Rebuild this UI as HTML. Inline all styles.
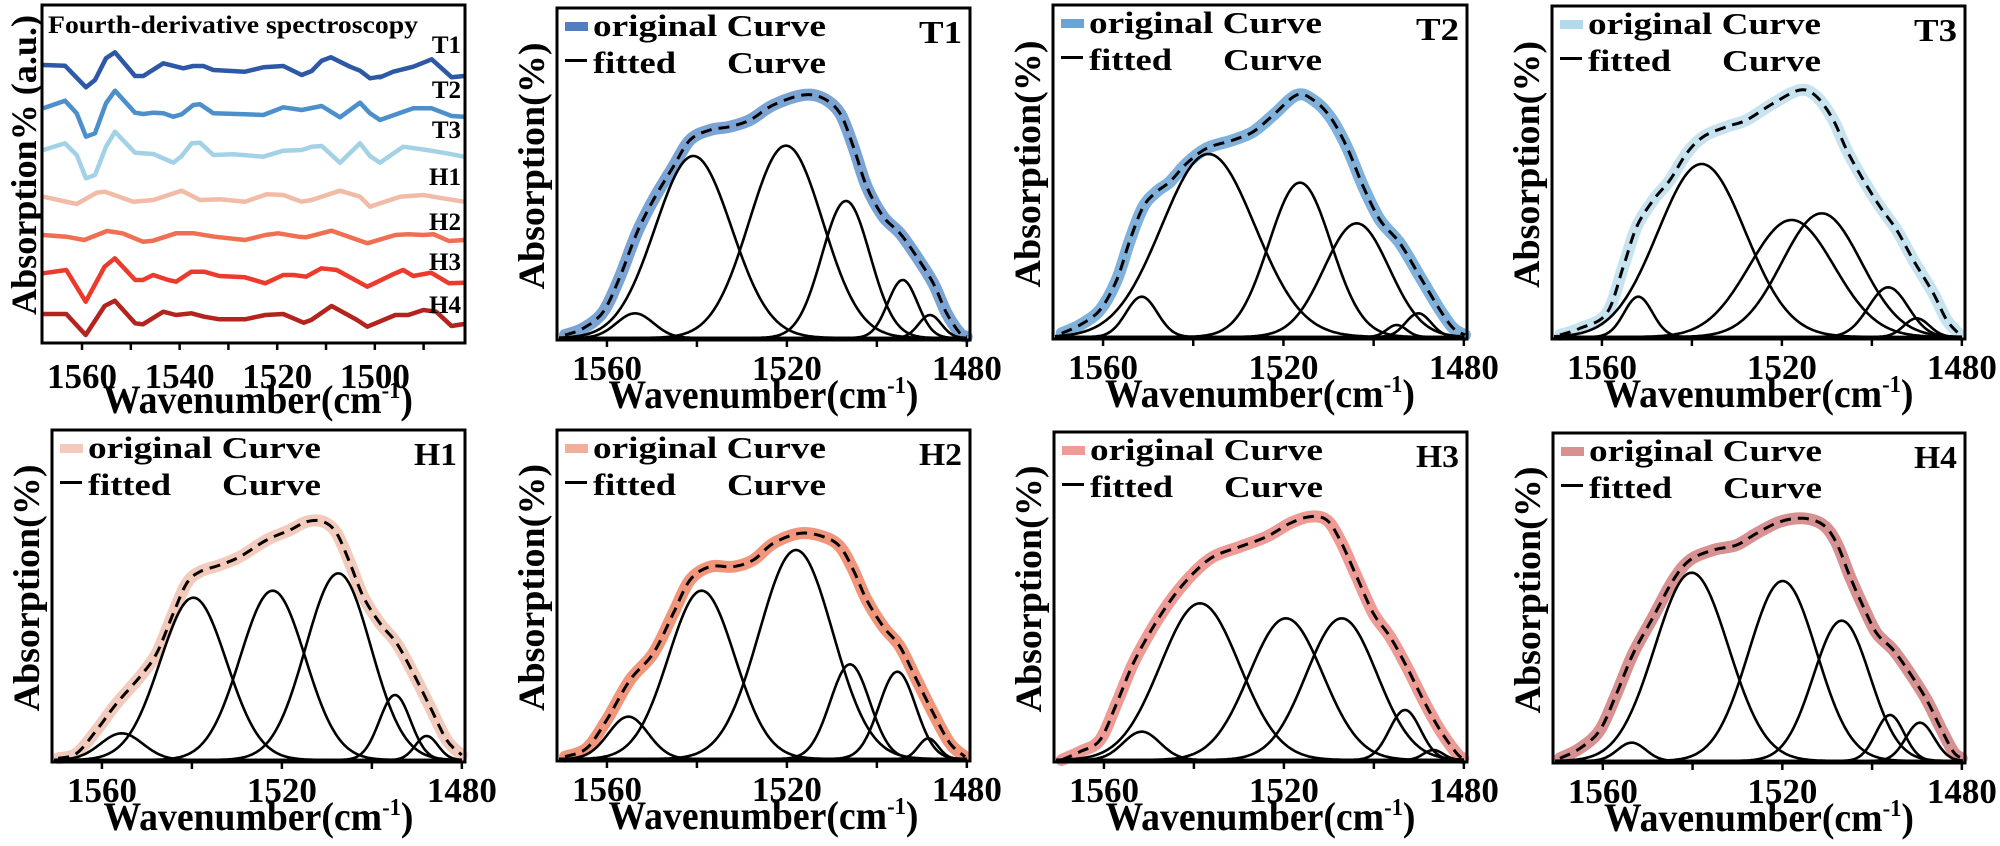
<!DOCTYPE html>
<html><head><meta charset="utf-8"><style>html,body{margin:0;padding:0;background:#fff}svg{display:block;font-family:"Liberation Serif","Times New Roman",serif;font-weight:bold}text{font-family:"Liberation Serif","Times New Roman",serif;font-weight:bold}</style></head>
<body><svg id="s" width="2000" height="846" xmlns="http://www.w3.org/2000/svg"></svg>
<script>
const S=document.getElementById('s');let H='';
function smooth(pts){let d='M'+pts[0][0].toFixed(1)+','+pts[0][1].toFixed(1);
for(let i=0;i<pts.length-1;i++){const p0=pts[i-1]||pts[i],p1=pts[i],p2=pts[i+1],p3=pts[i+2]||p2;
const c1=[p1[0]+(p2[0]-p0[0])/6,p1[1]+(p2[1]-p0[1])/6],c2=[p2[0]-(p3[0]-p1[0])/6,p2[1]-(p3[1]-p1[1])/6];
d+=`C${c1[0].toFixed(1)},${c1[1].toFixed(1)} ${c2[0].toFixed(1)},${c2[1].toFixed(1)} ${p2[0].toFixed(1)},${p2[1].toFixed(1)}`;}return d;}
function poly(pts){return 'M'+pts.map(p=>p[0].toFixed(1)+','+p[1].toFixed(1)).join('L');}
function xlabel(cx,y){H+=`<text x="${cx}" y="${y}" font-size="40" text-anchor="middle" textLength="310" lengthAdjust="spacingAndGlyphs">Wavenumber(cm<tspan font-size="24" dy="-15">-1</tspan><tspan dy="15">)</tspan></text>`;}
// ---- panel 0
(function(){const l=42,t=5,r=465,b=343;const X=w=>l+(1568.2-w)*4.88;
const cols={T1:'#2d58a6',T2:'#4b8fcb',T3:'#a3d2e6',H1:'#f2bba8',H2:'#ef6f52',H3:'#ec3b2d',H4:'#b3241e'};
const z1=(a,b2)=>a.map(p=>[p[0]/3,p[1]/3]).concat(b2.map(p=>[380+p[0]/3,p[1]/3]));
const z3=a=>a.map(p=>[p[0]/1.96,220+p[1]/3]);
const D={
T1:z1([[130,195],[195,197],[258,262],[285,240],[318,175],[345,157],[405,228],[430,228],[490,190],[550,205],[580,198],[610,198],[640,210],[735,215],[790,202],[850,198],[905,225],[935,213],[965,182],[993,172],[1050,200],[1080,212],[1110,235],[1140,230]],[[0,232],[40,215],[100,200],[155,178],[215,232],[255,228]]),
T2:z1([[130,325],[195,302],[230,340],[258,410],[285,400],[318,310],[345,272],[405,338],[430,342],[460,338],[490,340],[520,350],[545,343],[580,315],[600,313],[640,340],[735,343],[790,345],[850,322],[905,330],[965,318],[1020,352],[1080,308],[1110,340],[1140,360]],[[0,360],[100,325],[155,325],[215,348],[255,350]]),
T3:z1([[130,450],[195,430],[230,465],[258,535],[285,525],[318,440],[345,395],[405,458],[460,462],[520,488],[545,468],[575,430],[600,428],[640,465],[700,463],[790,470],[850,452],[905,450],[935,440],[965,438],[1020,488],[1080,430],[1110,468],[1140,488]],[[0,488],[70,440],[140,450],[200,460],[255,470]]),
H1:z1([[130,590],[230,612],[290,578],[315,575],[400,605],[460,600],[545,572],[600,600],[660,598],[735,605],[800,583],[850,585],[905,605],[935,600],[1020,572],[1080,590],[1110,620],[1140,610]],[[0,610],[60,590],[130,585],[170,592],[255,605]]),
H2:z3([[82,45],[130,50],[165,60],[210,33],[240,40],[280,65],[300,62],[345,40],[380,40],[420,50],[480,60],[520,45],[545,40],[585,50],[600,52],[650,32],[720,70],[775,45],[800,43],[830,45],[850,43],[880,63],[910,60]]),
H3:z3([[82,160],[130,150],[168,245],[205,140],[225,115],[265,180],[280,180],[300,165],[330,180],[345,185],[375,155],[400,155],[430,168],[480,172],[520,190],[555,165],[575,165],[600,170],[630,145],[660,150],[720,200],[770,163],[790,150],[810,168],[845,158],[880,190],[910,188]]),
H4:z3([[82,282],[130,282],[168,345],[205,258],[225,242],[265,310],[280,313],[320,275],[345,285],[375,280],[400,290],[430,298],[480,298],[520,285],[555,282],[595,308],[610,300],[650,258],[700,300],[720,320],[775,285],[800,285],[830,270],[855,275],[885,318],[910,312]])};
for(const k in D){const pts=D[k].map(p=>[Math.min(Math.max(p[0],l+1),r-1),p[1]]);H+=`<path d="${poly(pts)}" fill="none" stroke="${cols[k]}" stroke-width="4.5" stroke-linejoin="round"/>`;}
const lab=[['T1',53],['T2',98],['T3',138],['H1',185],['H2',230],['H3',270],['H4',313]];
for(const [s,y] of lab)H+=`<text x="461" y="${y}" font-size="25" text-anchor="end">${s}</text>`;
H+=`<text x="48" y="33" font-size="25" textLength="370" lengthAdjust="spacingAndGlyphs">Fourth-derivative spectroscopy</text>`;
H+=`<rect x="${l}" y="${t}" width="${r-l}" height="${b-t}" fill="none" stroke="#000" stroke-width="3"/>`;
for(let w=1560;w>=1490;w-=10){const x=X(w);H+=`<line x1="${x}" y1="${b}" x2="${x}" y2="${b+7}" stroke="#000" stroke-width="2.5"/>`;if(w%20==0)H+=`<text x="${x}" y="388" font-size="35" text-anchor="middle">${w}</text>`;}
xlabel(258,413);
H+=`<text transform="translate(36,165) rotate(-90)" font-size="36" text-anchor="middle" textLength="300" lengthAdjust="spacingAndGlyphs">Absorption% (a.u.)</text>`;
})();
// ---- fitted panels
const P=[
{n:'T1',l:557,t:8,r:970,b:340,o:[540,0],c:'#7ba4d4',sw:'#4f7fc0',comp:[[285,940,130],[460,468,270],[738,437,260],[918,603,170],[1088,840,105],[1170,945,80]],
s:[[75,1005],[130,985],[190,935],[240,830],[290,700],[340,600],[400,500],[450,420],[510,390],[570,380],[630,360],[700,315],[790,285],[850,295],[900,340],[940,440],[980,560],[1030,650],[1080,700],[1130,770],[1180,850],[1220,940],[1260,1000],[1280,1010]]},
{n:'T2',l:1053,t:5,r:1467,b:339,o:[1000,0],c:'#80b1db',sw:'#6aa3d6',comp:[[425,890,110],[625,462,330],[900,548,220],[1070,670,230],[1190,975,70],[1255,940,90]],
s:[[185,1000],[240,975],[300,930],[350,840],[390,720],[430,620],[470,575],[510,545],[560,490],[620,445],[700,420],[760,395],[820,345],[890,285],[940,300],[990,350],[1040,440],[1090,560],[1140,660],[1200,730],[1260,830],[1320,930],[1360,985],[1395,1005]]},
{n:'T3',l:1552,t:6,r:1965,b:339,o:[1540,0],c:'#c7e3ef',sw:'#b3d9ea',comp:[[295,890,100],[485,492,310],[755,660,300],[845,640,280],[1045,862,140],[1130,955,90]],
s:[[60,1005],[120,985],[200,940],[250,800],[290,680],[340,600],[390,540],[440,460],[490,410],[560,380],[620,360],[700,310],[780,270],[830,290],[880,360],[920,450],[970,540],[1020,620],[1070,690],[1120,780],[1180,880],[1220,960],[1260,1005]]},
{n:'H1',l:52,t:430,r:465,b:762,o:[0,420],c:'#f3cbbc',sw:'#f3cbbc',comp:[[365,940,150],[580,533,235],[818,512,230],[1015,460,230],[1185,825,110],[1280,948,80]],
s:[[175,1015],[230,1000],[290,930],[350,850],[420,770],[470,700],[520,580],[560,490],[600,455],[660,435],[720,410],[800,360],[870,330],[920,305],[970,305],[1010,340],[1050,430],[1090,530],[1140,610],[1190,670],[1240,760],[1290,860],[1340,960],[1385,1005]]},
{n:'H2',l:557,t:430,r:970,b:761,o:[540,420],c:'#f1957b',sw:'#f1ae9a',comp:[[265,890,140],[485,512,235],[768,390,260],[930,733,140],[1072,755,130],[1165,955,70]],
s:[[75,1010],[140,985],[200,900],[270,780],[340,700],[400,580],[450,480],[510,440],[580,440],[640,420],[700,370],[780,340],[850,350],[900,380],[940,450],[980,540],[1030,620],[1080,680],[1130,780],[1180,880],[1230,970],[1275,1010]]},
{n:'H3',l:1054,t:432,r:1467,b:762,o:[1040,420],c:'#ee9b95',sw:'#ee9b95',comp:[[305,935,130],[480,550,280],[738,595,260],[905,595,250],[1095,870,110],[1180,990,70]],
s:[[65,1020],[120,995],[180,960],[230,850],[280,730],[340,620],[400,530],[460,460],[520,410],[600,380],[680,350],[750,310],[810,290],[860,300],[900,360],[950,470],[1000,580],[1050,650],[1100,740],[1150,840],[1200,930],[1250,1000],[1270,1015]]},
{n:'H4',l:1553,t:433,r:1965,b:763,o:[1540,420],c:'#d89191',sw:'#d89191',comp:[[275,968,100],[455,458,260],[728,483,240],[905,602,200],[1050,885,100],[1140,908,100]],
s:[[60,1015],[120,985],[180,930],[230,820],[280,700],[340,590],[400,480],[450,420],[520,390],[590,375],[650,340],[720,305],[790,295],[850,315],[890,370],[930,470],[970,560],[1010,640],[1060,690],[1110,760],[1160,840],[1200,920],[1240,995],[1265,1015]]}];
for(const p of P){const [ox,oy]=p.o;const X=w=>p.l+(1571.1-w)*(p.r-p.l)/91.8;const base=p.b-2;
const sum=p.s.map(q=>[ox+q[0]/3,oy+q[1]/3]);const sd=smooth(sum);
H+=`<path d="${sd}" fill="none" stroke="${p.c}" stroke-width="12" stroke-linecap="round" stroke-linejoin="round"/>`;
for(const [cx,py,fw] of p.comp){const c=ox+cx/3,A=base-(oy+py/3),sg=fw/3/2.355;const pts=[];
for(let x=p.l+2;x<=p.r-2;x+=1.5){pts.push([x,base-A*Math.exp(-0.5*((x-c)/sg)**2)]);}
H+=`<path d="${poly(pts)}" fill="none" stroke="#000" stroke-width="2.6" stroke-linejoin="round"/>`;}
H+=`<path d="${sd}" fill="none" stroke="#000" stroke-width="3" stroke-dasharray="11,7"/>`;
H+=`<rect x="${p.l}" y="${p.t}" width="${p.r-p.l}" height="${p.b-p.t}" fill="none" stroke="#000" stroke-width="3"/>`;
for(const w of [1560,1540,1520,1500,1480]){const x=X(w);H+=`<line x1="${x}" y1="${p.b}" x2="${x}" y2="${p.b+7}" stroke="#000" stroke-width="2.5"/>`;if(w%40==0)H+=`<text x="${x}" y="${p.b+40}" font-size="35" text-anchor="middle">${w}</text>`;}
xlabel((p.l+p.r)/2,p.b+68);
H+=`<text transform="translate(${p.l-13},${(p.t+p.b)/2-8}) rotate(-90)" font-size="37" text-anchor="middle" textLength="247" lengthAdjust="spacingAndGlyphs">Absorption(%)</text>`;
H+=`<rect x="${p.l+8}" y="${p.t+14}" width="23" height="9" fill="${p.sw}"/>`;
H+=`<rect x="${p.l+8}" y="${p.t+51}" width="22" height="3" fill="#000"/>`;
H+=`<text x="${p.l+36}" y="${p.t+28}" font-size="31" textLength="233" lengthAdjust="spacingAndGlyphs">original Curve</text>`;
H+=`<text x="${p.l+36}" y="${p.t+65}" font-size="31" textLength="83" lengthAdjust="spacingAndGlyphs">fitted</text><text x="${p.l+170}" y="${p.t+65}" font-size="31" textLength="99" lengthAdjust="spacingAndGlyphs">Curve</text>`;
H+=`<text x="${p.r-8}" y="${p.t+35}" font-size="32" text-anchor="end" textLength="43" lengthAdjust="spacingAndGlyphs">${p.n}</text>`;}
S.innerHTML=H;
</script></body></html>
